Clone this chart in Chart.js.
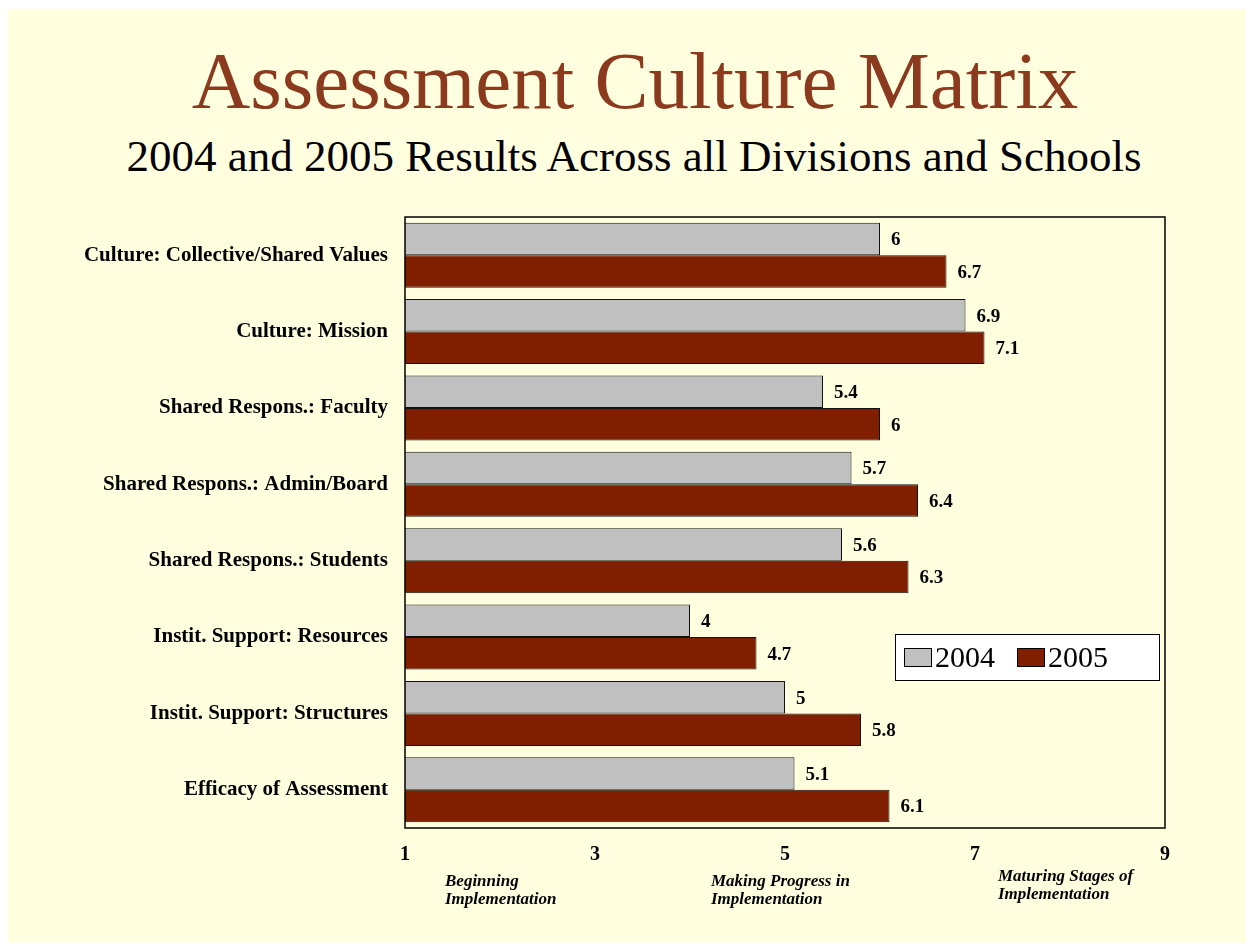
<!DOCTYPE html>
<html>
<head>
<meta charset="utf-8">
<script src="https://cdn.jsdelivr.net/npm/chart.js@4.4.1/dist/chart.umd.min.js"></script>
<style>
  html, body { margin: 0; padding: 0; background: #ffffff; }
  #page { position: absolute; left: 8px; top: 9px; width: 1238px; height: 934px; background: #FFFFE0; overflow: hidden; }
  #title { position: absolute; left: 4px; width: 1246px; top: 32px; text-align: center; font-family: "Liberation Serif", "Times New Roman", serif; font-size: 81px; color: #8B3A1E; line-height: 1; white-space: nowrap; }
  #subtitle { position: absolute; left: 3px; width: 1246px; top: 125px; text-align: center; font-family: "Liberation Serif", "Times New Roman", serif; font-size: 45px; color: #000; line-height: 1; white-space: nowrap; }
  #wrap { position: absolute; left: 0; top: 0; width: 1246px; height: 943px; }
  .stage { position: absolute; font-family: "Liberation Serif", "Times New Roman", serif; font-weight: bold; font-style: italic; font-size: 17px; line-height: 18px; color: #000; white-space: nowrap; }
</style>
</head>
<body>
<div id="page">
  <div id="title">Assessment Culture Matrix</div>
  <div id="subtitle">2004 and 2005 Results Across all Divisions and Schools</div>
</div>
<div id="wrap"><canvas id="c" width="1246" height="943"></canvas></div>
<div class="stage" style="left:445px; top:872px;">Beginning<br>Implementation</div>
<div class="stage" style="left:711px; top:872px;">Making Progress in<br>Implementation</div>
<div class="stage" style="left:998px; top:867px;">Maturing Stages of<br>Implementation</div>
<script>
const categories = [
  "Culture: Collective/Shared Values",
  "Culture: Mission",
  "Shared Respons.: Faculty",
  "Shared Respons.: Admin/Board",
  "Shared Respons.: Students",
  "Instit. Support: Resources",
  "Instit. Support: Structures",
  "Efficacy of Assessment"
];
const values2004 = [6, 6.9, 5.4, 5.7, 5.6, 4, 5, 5.1];
const values2005 = [6.7, 7.1, 6, 6.4, 6.3, 4.7, 5.8, 6.1];
const seriesNames = ["2004", "2005"];
const xTicks = [1, 3, 5, 7, 9];

const SERIF = '"Liberation Serif", "Times New Roman", serif';

const labelPlugin = {
  id: 'barLabels',
  afterDatasetsDraw(chart) {
    const ctx = chart.ctx;
    ctx.save();
    ctx.font = 'bold 19px ' + SERIF;
    ctx.fillStyle = '#000';
    ctx.textBaseline = 'middle';
    ctx.textAlign = 'left';
    chart.data.datasets.forEach((ds, di) => {
      const meta = chart.getDatasetMeta(di);
      meta.data.forEach((bar, i) => {
        ctx.fillText(String(ds.data[i]), bar.x + 11, bar.y + 1.5);
      });
    });
    ctx.restore();
  },
  afterDraw(chart) {
    const ctx = chart.ctx;
    const a = chart.chartArea;
    ctx.save();
    ctx.strokeStyle = '#000';
    ctx.lineWidth = 1.5;
    ctx.strokeRect(a.left, a.top, a.right - a.left, a.bottom - a.top);
    // legend
    const lx = 895, ly = 634, lw = 264, lh = 46;
    ctx.fillStyle = '#fff';
    ctx.fillRect(lx, ly, lw, lh);
    ctx.strokeStyle = '#000';
    ctx.lineWidth = 1;
    ctx.strokeRect(lx + 0.5, ly + 0.5, lw, lh);
    ctx.font = '30px ' + SERIF;
    ctx.textBaseline = 'middle';
    ctx.textAlign = 'left';
    const xs = [lx + 9, lx + 122];
    chart.data.datasets.forEach((ds, i) => {
      const bx = xs[i], by = ly + 14;
      ctx.fillStyle = ds.backgroundColor;
      ctx.fillRect(bx, by, 28, 18);
      ctx.strokeStyle = '#000';
      ctx.strokeRect(bx + 0.5, by + 0.5, 27, 18);
      ctx.fillStyle = '#000';
      ctx.fillText(ds.label, bx + 31, ly + 25);
    });
    ctx.restore();
  }
};

new Chart(document.getElementById('c'), {
  type: 'bar',
  data: {
    labels: categories,
    datasets: [
      { label: seriesNames[0], data: values2004, backgroundColor: '#C0C0C0', borderColor: '#111', borderWidth: 1, categoryPercentage: 0.85, barPercentage: 1.0 },
      { label: seriesNames[1], data: values2005, backgroundColor: '#7F1F00', borderColor: '#111', borderWidth: 1, categoryPercentage: 0.85, barPercentage: 1.0 }
    ]
  },
  options: {
    indexAxis: 'y',
    responsive: false,
    animation: false,
    devicePixelRatio: 1,
    layout: { padding: { left: 0, top: 217, right: 81, bottom: 0 } },
    plugins: { legend: { display: false }, tooltip: { enabled: false }, title: { display: false } },
    scales: {
      x: {
        min: 1, max: 9,
        afterBuildTicks(scale) { scale.ticks = xTicks.map(v => ({ value: v })); },
        afterFit(scale) { scale.height = 115; },
        grid: { display: false, drawTicks: false },
        border: { display: false },
        ticks: { color: '#000', padding: 15, font: { family: SERIF, size: 20, weight: 'bold' } }
      },
      y: {
        afterFit(scale) { scale.width = 405; },
        grid: { display: false, drawTicks: false },
        border: { display: false },
        ticks: { color: '#000', padding: 17, font: { family: SERIF, size: 21, weight: 'bold' } }
      }
    }
  },
  plugins: [labelPlugin]
});
</script>
</body>
</html>
